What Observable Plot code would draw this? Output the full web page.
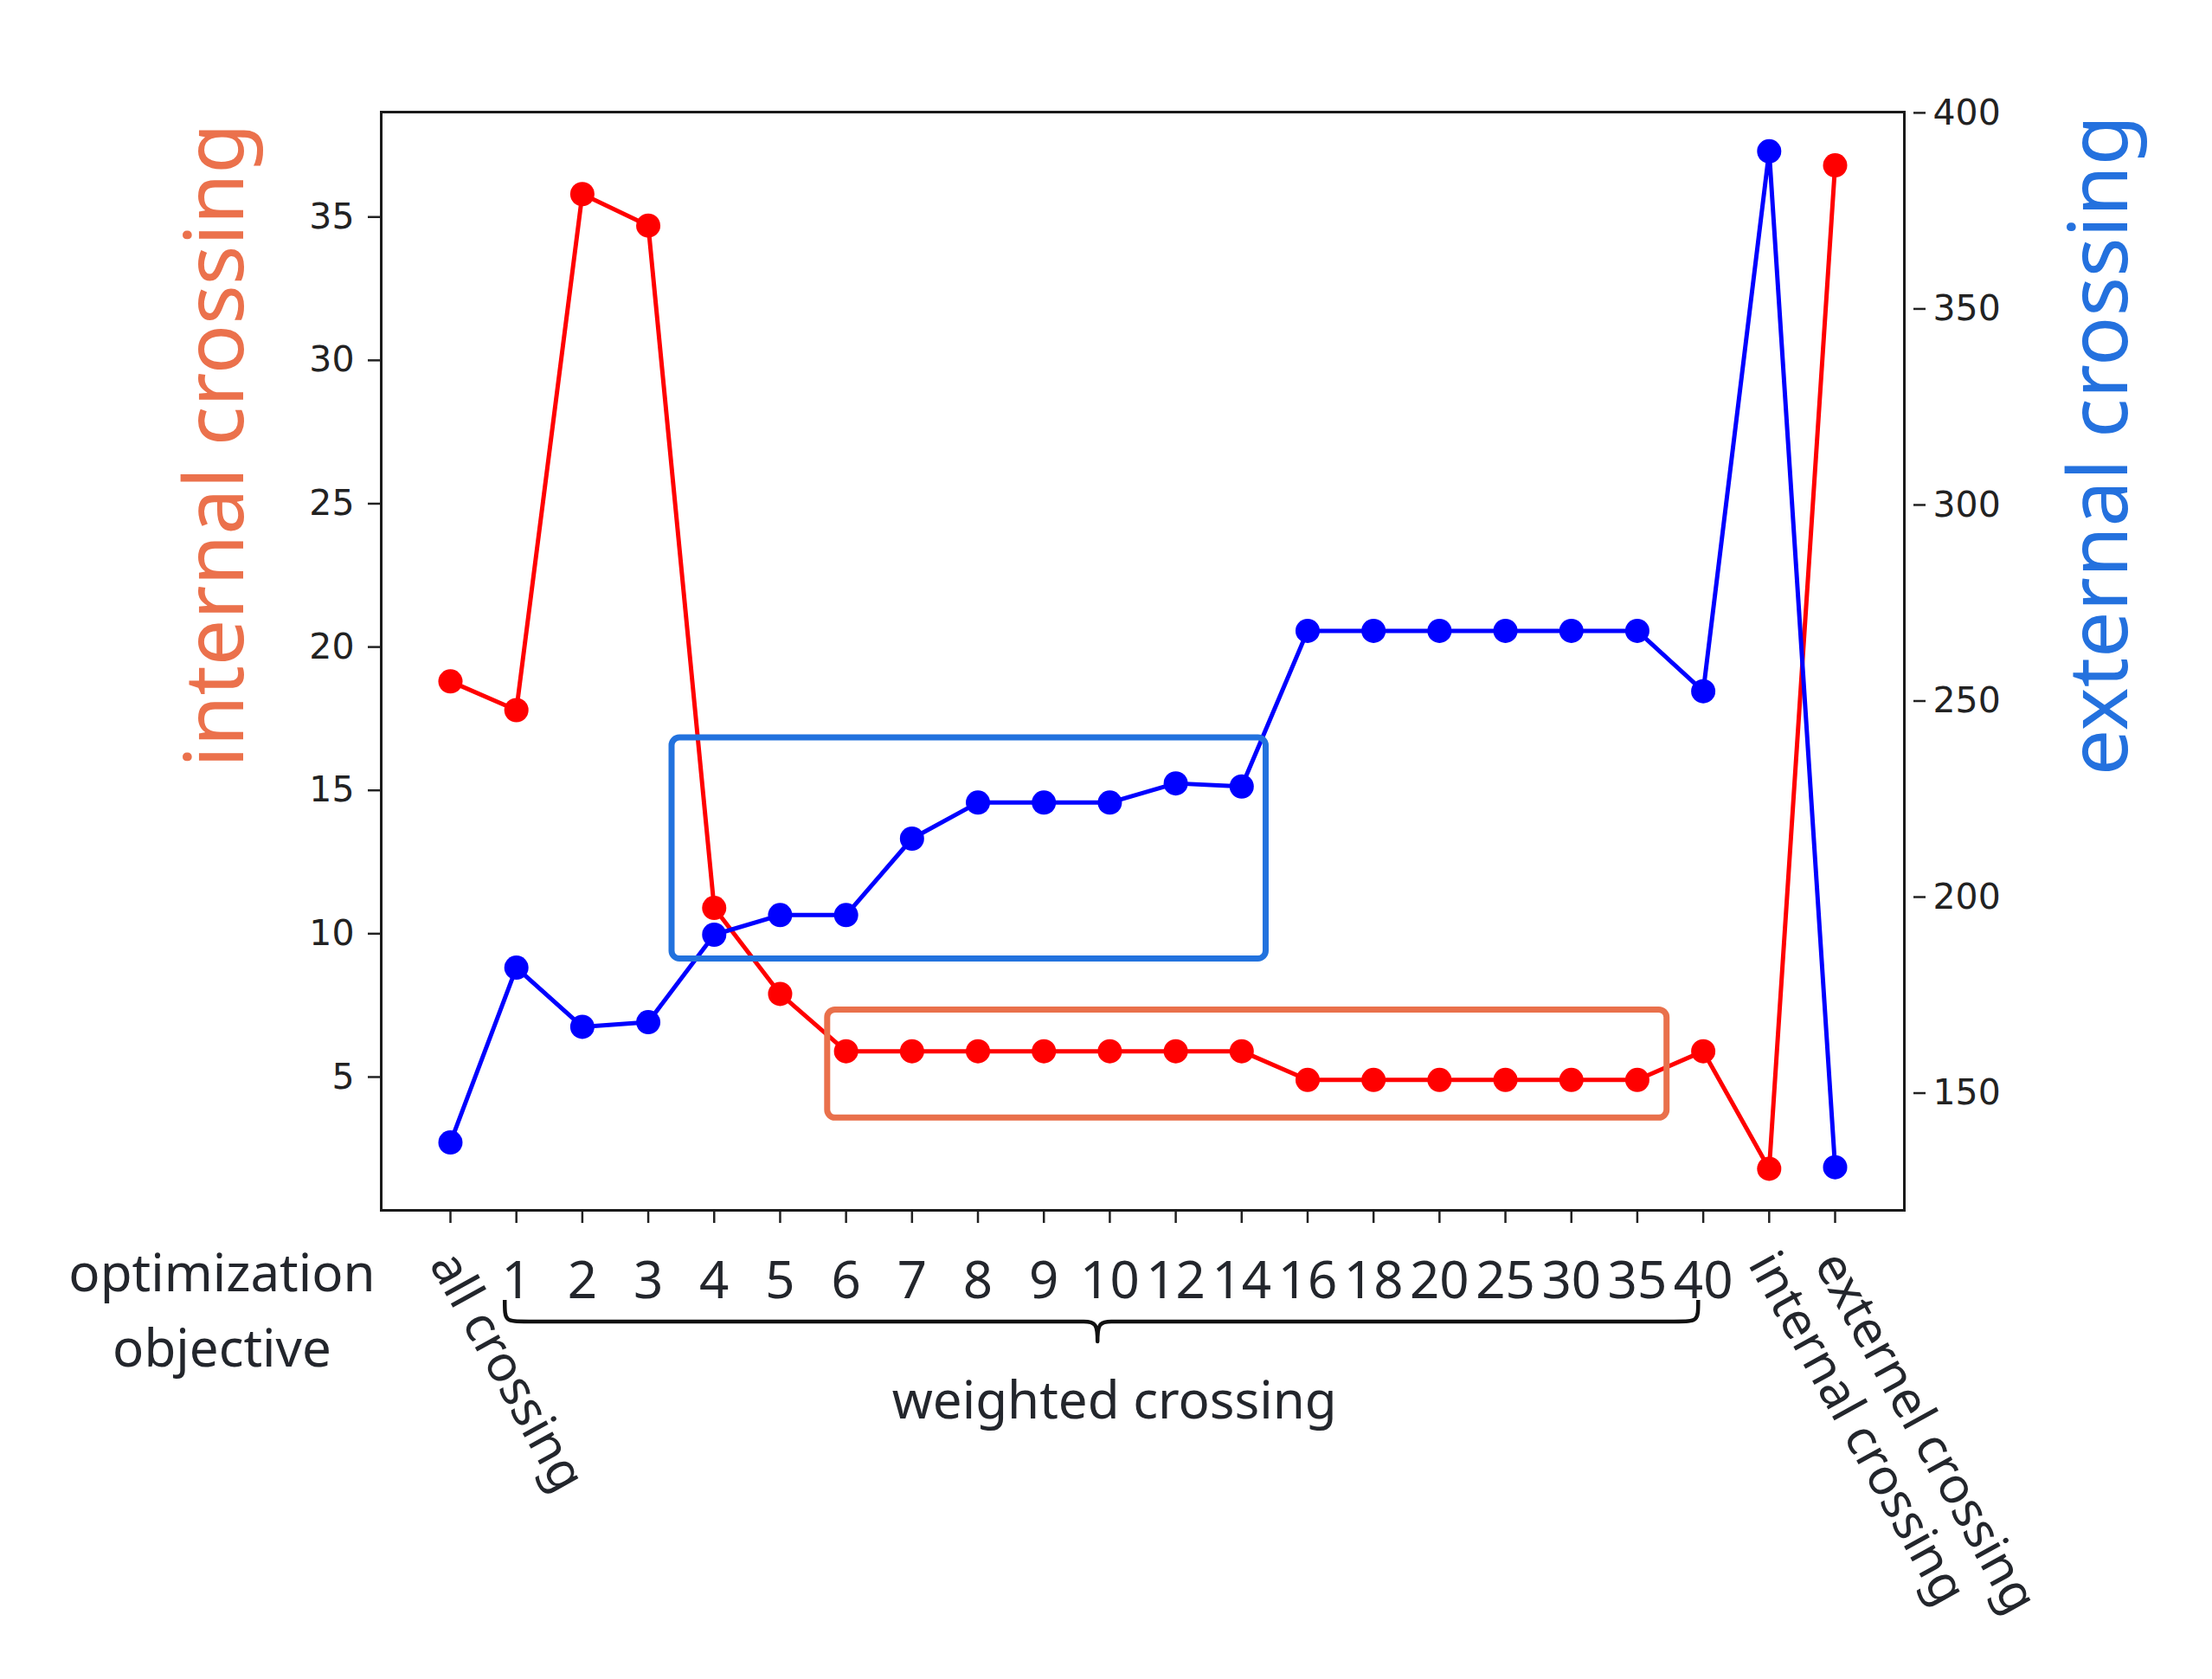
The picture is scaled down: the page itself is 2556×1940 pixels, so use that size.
<!DOCTYPE html>
<html>
<head>
<meta charset="utf-8">
<script src="https://cdn.jsdelivr.net/npm/d3@7"></script>
<script src="https://cdn.jsdelivr.net/npm/@observablehq/plot@0.6"></script>
<style>
  html, body { margin: 0; padding: 0; background: #fff; }
  #chart svg { display: block; }
</style>
</head>
<body>
<div id="chart"></div>
<script>
// ---------- data ----------
const categories = ["all crossing", "1", "2", "3", "4", "5", "6", "7", "8", "9", "10", "12", "14", "16", "18", "20", "25", "30", "35", "40", "internal crossing", "externel crossing"];
const internalCrossing = [18.8, 17.8, 35.8, 34.7, 10.9, 7.9, 5.9, 5.9, 5.9, 5.9, 5.9, 5.9, 5.9, 4.9, 4.9, 4.9, 4.9, 4.9, 4.9, 5.9, 1.8, 36.8];
const externalCrossing = [137.4, 182.0, 166.9, 168.1, 190.4, 195.4, 195.4, 214.9, 224.1, 224.1, 224.1, 229.0, 228.2, 267.9, 267.9, 267.9, 267.9, 267.9, 267.9, 252.5, 390.2, 131.1];
const leftTicks = [5, 10, 15, 20, 25, 30, 35];
const rightTicks = [150, 200, 250, 300, 350, 400];
const rotatedLabels = ["all crossing", "internal crossing", "externel crossing"];
const leftTitle = "internal crossing";
const rightTitle = "external crossing";
const xTitle = "optimization\nobjective";
const groupLabel = "weighted crossing";
// annotation: brace under categories "1".."40" (x in category-index units)
const brace = { start: 0.83, end: 18.93, tip: 9.82, label: 10.07 };
// highlight boxes (x in category-index units, y on the internal-crossing scale)
const highlightBoxes = [
  { x1: 3.36, x2: 12.37, y1: 9.12, y2: 16.83, color: "#2272de" },
  { x1: 5.72, x2: 18.45, y1: 3.57, y2: 7.34, color: "#e9704b" }
];
// scale domains
const xDomain = [-1.05, 22.05];
const leftDomain = [0.35, 38.66];
const rightDomain = [120.1, 400.2];

// ---------- derived ----------
const rows = categories.map((c, i) => ({ i, c, internal: internalCrossing[i], external: externalCrossing[i] }));
const toLeft = d3.scaleLinear().domain(rightDomain).range(leftDomain);
const rotatedRows = rows.filter(d => rotatedLabels.includes(d.c));
const uprightIdx = rows.filter(d => !rotatedLabels.includes(d.c)).map(d => d.i);
const allIdx = rows.map(d => d.i);

const labelFont = "Noto Sans";
const labelColor = "#23262c";

function braceMark(index, scales, values, dimensions) {
  const x = scales.x;
  const yb = dimensions.height - dimensions.marginBottom;
  const xa = x(brace.start), xb = x(brace.end), xm = x(brace.tip);
  const yTop = yb + 104, yMid = yb + 129, yTip = yb + 152;
  const r = 28, s = 16;
  const d = `M${xa},${yTop} C${xa},${yMid} ${xa},${yMid} ${xa + r},${yMid} L${xm - s},${yMid} ` +
            `C${xm - 2},${yMid} ${xm},${yMid + 4} ${xm},${yTip} C${xm},${yMid + 4} ${xm + 2},${yMid} ${xm + s},${yMid} ` +
            `L${xb - r},${yMid} C${xb},${yMid} ${xb},${yMid} ${xb},${yTop}`;
  return d3.create("svg:path")
    .attr("d", d)
    .attr("fill", "none")
    .attr("stroke", "#111")
    .attr("stroke-width", 4.5)
    .attr("stroke-linejoin", "round")
    .node();
}

const chart = Plot.plot({
  width: 2556,
  height: 1940,
  marginLeft: 440,
  marginRight: 356,
  marginTop: 129,
  marginBottom: 542,
  style: { background: "#fff", color: "#222", fontFamily: "DejaVu Sans" },
  x: { domain: xDomain, axis: null },
  y: { domain: leftDomain, axis: null },
  marks: [
    // left axis (internal crossing)
    Plot.axisY(leftTicks, { anchor: "left", tickSize: 15, tickPadding: 16, fontSize: 41, strokeWidth: 2.5, label: null }),
    // right axis (external crossing), ticks mapped onto the shared y scale
    Plot.axisY(rightTicks.map(v => toLeft(v)), {
      anchor: "right", tickSize: 14, tickPadding: 9, dx: 10, fontSize: 41, strokeWidth: 2.5, label: null,
      tickFormat: d => String(Math.round(toLeft.invert(d)))
    }),
    // x tick marks
    Plot.axisX(allIdx, { anchor: "bottom", tickSize: 15, strokeWidth: 2.5, tickFormat: () => "", label: null }),
    // x upright labels
    Plot.axisX(uprightIdx, {
      anchor: "bottom", tickSize: 0, tickPadding: 59, fontSize: 60, fontFamily: labelFont, fill: labelColor,
      tickFormat: i => categories[i], label: null
    }),
    // x rotated labels
    Plot.text(rotatedRows, {
      x: "i", text: "c", frameAnchor: "bottom", rotate: 61, textAnchor: "start", lineAnchor: "bottom",
      dx: -25, dy: 62, fontSize: 58, fontFamily: labelFont, fill: labelColor
    }),
    // series
    Plot.line(rows, { x: "i", y: "internal", stroke: "#ff0000", strokeWidth: 5 }),
    Plot.dot(rows, { x: "i", y: "internal", r: 14, fill: "#ff0000" }),
    Plot.line(rows, { x: "i", y: d => toLeft(d.external), stroke: "#0000ff", strokeWidth: 5 }),
    Plot.dot(rows, { x: "i", y: d => toLeft(d.external), r: 14, fill: "#0000ff" }),
    Plot.frame({ stroke: "#1a1a1a", strokeWidth: 3 }),
    // highlight boxes
    ...highlightBoxes.map(b => Plot.rect([b], { x1: "x1", x2: "x2", y1: "y1", y2: "y2", fill: "none", stroke: b.color, strokeWidth: 7, rx: 9 })),
    // brace + group label
    braceMark,
    Plot.text([groupLabel], {
      x: () => brace.label, text: d => d, frameAnchor: "bottom", dy: 240, lineAnchor: "bottom",
      fontSize: 60, fontFamily: labelFont, fill: labelColor
    }),
    // x title
    Plot.text([xTitle], {
      text: d => d, frameAnchor: "bottom-left", dx: -184, dy: 180, textAnchor: "middle", lineAnchor: "bottom",
      lineHeight: 1.45, fontSize: 60, fontFamily: labelFont, fill: labelColor
    }),
    // y titles
    Plot.text([leftTitle], {
      text: d => d, frameAnchor: "top-left", rotate: -90, dx: -160, dy: 385, textAnchor: "middle", lineAnchor: "bottom",
      fontSize: 95, fontFamily: labelFont, fill: "#eb714c"
    }),
    Plot.text([rightTitle], {
      text: d => d, frameAnchor: "top-right", rotate: -90, dx: 257, dy: 385, textAnchor: "middle", lineAnchor: "bottom",
      fontSize: 95, fontFamily: labelFont, fill: "#2471de"
    })
  ]
});

document.getElementById("chart").appendChild(chart);
</script>
</body>
</html>
